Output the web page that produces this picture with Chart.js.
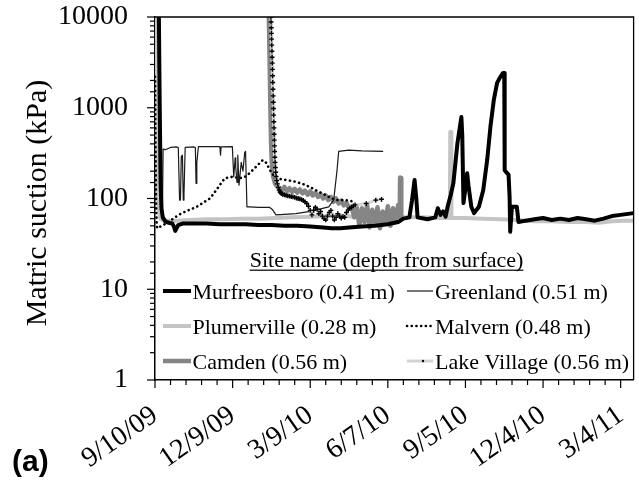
<!DOCTYPE html>
<html>
<head>
<meta charset="utf-8">
<script src="https://cdn.jsdelivr.net/npm/chart.js@4.4.1/dist/chart.umd.min.js"></script>
<style>
  html, body { margin: 0; padding: 0; background: #fff; }
  canvas { display: block; }
</style>
</head>
<body>
<canvas id="suctionChart" width="639" height="490"></canvas>
<script>
// x = days since 9/10/09, y = matric suction (kPa)
const xTickDays = [0, 90, 180, 270, 360, 450, 540];
const xTickLabels = ['9/10/09', '12/9/09', '3/9/10', '6/7/10', '9/5/10', '12/4/10', '3/4/11'];
const yTickValues = [1, 10, 100, 1000, 10000];
const yTickLabels = ['1', '10', '100', '1000', '10000'];

const murfreesboro = [
  [4.5, 10000], [5.5, 1000], [6.5, 150], [7.5, 78], [9, 62], [12, 56], [16, 54], [20, 53], [22, 49], [23.5, 44],
  [25, 47], [27, 51], [32, 53], [45, 53], [60, 53], [75, 52], [90, 52], [105, 52], [120, 51], [135, 51],
  [150, 50], [165, 50], [180, 49], [195, 48], [205, 47], [215, 47], [225, 48], [240, 49], [255, 50], [270, 52],
  [282, 55], [288, 60], [295, 62], [298, 95], [301, 160], [303, 100], [304.5, 62], [316, 59], [325, 62], [328, 78],
  [331, 66], [334, 72], [337, 63], [339.3, 81], [343, 110], [346, 147], [350.7, 407], [355.3, 790], [356.3, 500], [357.7, 89],
  [360, 130], [362, 190], [363.5, 140], [366.8, 81], [370, 69], [375.6, 81], [380.6, 123], [385.2, 265], [389, 620], [392.9, 1220],
  [396.7, 1880], [400, 2150], [403.6, 2420], [405, 2420], [405.5, 205], [410, 182], [411.2, 104], [411.9, 43], [413.9, 81], [419.6, 81],
  [421.5, 55], [430, 57], [440, 59], [450, 61], [460, 58], [470, 60], [480, 58], [490, 61], [500, 59], [510, 57],
  [520, 60], [530, 64], [540, 66], [555, 69]
];

const greenland = [
  [8.6, 68], [9.4, 350], [12, 345], [18, 365], [25.5, 370], [27, 365], [28.5, 96], [29.5, 96], [30.5, 290], [31.8, 300],
  [32.8, 96], [33.6, 110], [35, 365], [44.6, 370], [46.8, 365], [47.6, 147], [48.5, 250], [50.3, 372], [75.2, 372], [76, 300],
  [76.6, 370], [89.7, 372], [91.3, 174], [93, 280], [93.6, 224], [95.1, 150], [96, 300], [97.4, 140], [100, 250], [102, 200],
  [104, 320], [105, 330], [106.6, 81], [109.6, 81], [120, 80], [132.6, 80], [136.4, 75], [140.3, 66], [150, 67], [163.3, 68],
  [180, 72], [201.5, 81], [207.2, 96], [211, 200], [213, 330], [224.5, 342], [240, 335], [264.6, 330]
];

const plumerville = [
  [1.2, 10000], [2, 800], [3, 150], [4.5, 75], [6, 60], [10, 57], [25, 57], [40, 58], [60, 59], [80, 59],
  [100, 60], [120, 60], [140, 61], [160, 62], [180, 63], [200, 64], [215, 65], [230, 63], [250, 62], [270, 62],
  [290, 62], [310, 62], [330, 61], [342, 61], [342.4, 540], [343.3, 540], [343.7, 61], [360, 61], [380, 60], [400, 59],
  [420, 58], [440, 56], [460, 56], [480, 55], [500, 55], [515, 54], [530, 56], [545, 57], [555, 57]
];

const malvern = [
  [0, 2200], [0.4, 700], [0.8, 200], [1.3, 80], [2, 52], [2.5, 47], [8, 50], [15.8, 55], [23, 62], [31.2, 69],
  [40, 75], [48.4, 81], [56, 90], [63.7, 100], [70, 120], [75.2, 141], [80.9, 167], [90.1, 174], [98.2, 167], [105.9, 176],
  [113.4, 206], [121.1, 244], [124.9, 265], [128.8, 248], [134.6, 196], [140.3, 167], [151.8, 160], [163.3, 153], [174.7, 141], [186.2, 124],
  [197.7, 109], [209.2, 96], [220.7, 96], [232.1, 92]
];

const camden = [
  [132, 10000], [133, 3000], [133.8, 1000], [134.6, 400], [135.5, 250], [137, 175], [139, 148], [141, 138], [144, 132], [147, 122],
  [150, 134], [153, 120], [156, 130], [159, 118], [162, 128], [165, 116], [168, 126], [171, 114], [174, 122], [177, 110],
  [180, 120], [183, 108], [186, 116], [189, 104], [192, 112], [195, 100], [198, 108], [201, 96], [204, 104], [207, 92],
  [210, 100], [213, 88], [216, 95], [219, 84], [222, 90], [225, 78], [228, 82], [231, 62], [234, 80], [237, 50],
  [240, 78], [243, 55], [246, 85], [249, 48], [252, 75], [255, 52], [258, 80], [261, 47], [264, 72], [267, 55],
  [270, 82], [273, 50], [276, 78], [279, 58], [282, 85], [283.8, 62], [284.2, 170], [285.3, 168], [285.6, 62]
];

const lakeVillage = [
  [134.4, 10000], [134.6, 8800], [134.8, 7600], [135, 6600], [135.2, 5700], [135.4, 4900], [135.6, 4200], [135.8, 3600], [136, 3100], [136.2, 2650],
  [136.4, 2250], [136.6, 1900], [136.8, 1600], [137, 1350], [137.2, 1150], [137.4, 980], [137.6, 830], [137.8, 700], [138, 600], [138.2, 510],
  [138.4, 440], [138.6, 380], [138.8, 330], [139, 285], [139.3, 250], [139.6, 220], [140, 195], [140.5, 175], [141.2, 158], [142, 145],
  [143, 132], [144, 124], [145, 118], [146, 115], [147, 113], [148, 111], [150, 110], [152, 108], [154, 107], [156, 106],
  [158, 105], [160, 104], [162, 103], [164, 101], [166, 100], [168, 99], [170, 97], [172, 95], [174, 92], [176, 88],
  [178, 82], [180, 74], [182, 66], [184, 74], [186, 80], [188, 76], [190, 68], [192, 72], [194, 64], [196, 60],
  [198, 58], [200, 64], [202, 70], [204, 74], [206, 64], [208, 58], [210, 62], [212, 68], [214, 64], [216, 61],
  [218, 63], [220, 62], [222, 70], [224, 75], [226, 78], [228, 80], [230, 83], [232, 85], [245, 88], [256, 96],
  [262.7, 98]
];

const toPoints = arr => arr.map(([x, y]) => ({ x, y }));

const frameAndTicks = {
  id: 'frameAndTicks',
  afterDraw(chart) {
    const ctx = chart.ctx;
    const a = chart.chartArea;
    const xs = chart.scales.x;
    const ys = chart.scales.y;
    ctx.save();
    ctx.strokeStyle = '#000';
    ctx.lineWidth = 1.3;
    ctx.beginPath();
    ctx.moveTo(a.left, a.top);
    ctx.lineTo(a.right, a.top);
    ctx.lineTo(a.right, a.bottom);
    ctx.stroke();

    ctx.lineWidth = 1.2;
    xs.ticks.forEach(t => {
      const px = xs.getPixelForValue(t.value);
      const len = xTickDays.includes(t.value) ? 8 : 5;
      ctx.beginPath();
      ctx.moveTo(px, a.bottom);
      ctx.lineTo(px, a.bottom + len);
      ctx.stroke();
    });
    ys.ticks.forEach(t => {
      const py = ys.getPixelForValue(t.value);
      const len = yTickValues.includes(t.value) ? 8 : 5;
      ctx.beginPath();
      ctx.moveTo(a.left - len, py);
      ctx.lineTo(a.left, py);
      ctx.stroke();
    });
    ctx.restore();
  }
};

const extraText = {
  id: 'extraText',
  afterDraw(chart) {
    const ctx = chart.ctx;
    ctx.save();
    ctx.fillStyle = '#000';
    // y axis title
    ctx.translate(38, 203);
    ctx.rotate(-Math.PI / 2);
    ctx.font = '30px "Liberation Serif"';
    ctx.textAlign = 'center';
    ctx.textBaseline = 'middle';
    ctx.fillText('Matric suction (kPa)', 0, 0);
    ctx.restore();

    ctx.save();
    ctx.fillStyle = '#000';
    ctx.font = 'bold 30px "Liberation Sans"';
    ctx.textAlign = 'left';
    ctx.textBaseline = 'alphabetic';
    ctx.fillText('(a)', 12, 471);
    ctx.restore();
  }
};

const siteLegend = {
  id: 'siteLegend',
  afterDraw(chart) {
    const ctx = chart.ctx;
    ctx.save();
    ctx.fillStyle = '#000';
    ctx.font = '22px "Liberation Serif"';
    ctx.textAlign = 'center';
    ctx.textBaseline = 'alphabetic';
    const title = 'Site name (depth from surface)';
    ctx.fillText(title, 386.5, 266.5);
    const tw = ctx.measureText(title).width;
    ctx.fillRect(386.5 - tw / 2, 269.6, tw, 1.2);

    ctx.textAlign = 'left';
    const cols = [{ x0: 163, x1: 191, tx: 192.5 }, { x0: 407, x1: 433, tx: 435 }];
    chart.data.datasets.forEach((ds, i) => {
      const c = cols[i % 2];
      const base = 299 + Math.floor(i / 2) * 35;
      const ly = base - 8;
      ctx.save();
      ctx.strokeStyle = ds.borderColor;
      ctx.lineWidth = ds.borderWidth;
      ctx.lineCap = ds.borderCapStyle || 'butt';
      ctx.setLineDash(ds.borderDash || []);
      ctx.beginPath();
      ctx.moveTo(c.x0, ly);
      ctx.lineTo(c.x1, ly);
      ctx.stroke();
      if (ds.legendDot) {
        ctx.fillStyle = '#000';
        ctx.beginPath();
        ctx.arc((c.x0 + c.x1) / 2 + 3, ly, 1.2, 0, Math.PI * 2);
        ctx.fill();
      }
      ctx.restore();
      ctx.fillText(ds.label, c.tx, base);
    });
    ctx.restore();
  }
};

new Chart(document.getElementById('suctionChart'), {
  type: 'line',
  data: {
    datasets: [
      { label: 'Murfreesboro (0.41 m)', data: toPoints(murfreesboro), borderColor: '#000000', borderWidth: 4, order: 0 },
      { label: 'Greenland (0.51 m)', data: toPoints(greenland), borderColor: '#1a1a1a', borderWidth: 1.2, order: 2 },
      { label: 'Plumerville (0.28 m)', data: toPoints(plumerville), borderColor: '#c4c4c4', borderWidth: 4, order: 5 },
      { label: 'Malvern (0.48 m)', data: toPoints(malvern), borderColor: '#000000', borderWidth: 2.6,
        borderDash: [0.1, 4.6], borderCapStyle: 'round', order: 3 },
      { label: 'Camden (0.56 m)', data: toPoints(camden), borderColor: '#858585', borderWidth: 4.5, order: 4 },
      { label: 'Lake Village (0.56 m)', data: toPoints(lakeVillage), borderColor: '#d4d4d4', borderWidth: 3,
        pointRadius: 2.4, pointStyle: 'cross', pointBorderColor: '#000000', pointBorderWidth: 1.4, legendDot: true, order: 1 }
    ]
  },
  options: {
    responsive: false,
    animation: false,
    events: [],
    layout: { padding: { left: 0, top: 17, right: 1.5, bottom: 0 } },
    elements: {
      line: { tension: 0, borderJoinStyle: 'round' },
      point: { radius: 0 }
    },
    plugins: {
      legend: { display: false },
      tooltip: { enabled: false },
      title: { display: false }
    },
    scales: {
      x: {
        type: 'linear',
        min: 0,
        max: 555,
        grid: { display: false, drawTicks: false },
        border: { display: true, color: '#000', width: 1.5 },
        ticks: {
          stepSize: 18,
          includeBounds: false,
          autoSkip: false,
          minRotation: 35,
          maxRotation: 35,
          padding: 19,
          color: '#000',
          font: { family: '"Liberation Serif"', size: 28 },
          callback: v => {
            const i = xTickDays.indexOf(v);
            return i >= 0 ? xTickLabels[i] : '';
          }
        },
        afterFit: s => {
          s.height = 110;
          s.paddingLeft = 0;
          s.paddingRight = 0;
        }
      },
      y: {
        type: 'logarithmic',
        min: 1,
        max: 10000,
        grid: { display: false, drawTicks: false },
        border: { display: true, color: '#000', width: 1.5 },
        ticks: {
          autoSkip: false,
          padding: 27,
          color: '#000',
          font: { family: '"Liberation Serif"', size: 28 },
          callback: v => {
            const i = yTickValues.indexOf(v);
            return i >= 0 ? yTickLabels[i] : '';
          }
        },
        afterFit: s => {
          s.width = 155;
          s.paddingTop = 0;
          s.paddingBottom = 0;
        }
      }
    }
  },
  plugins: [frameAndTicks, extraText, siteLegend]
});
</script>
</body>
</html>
